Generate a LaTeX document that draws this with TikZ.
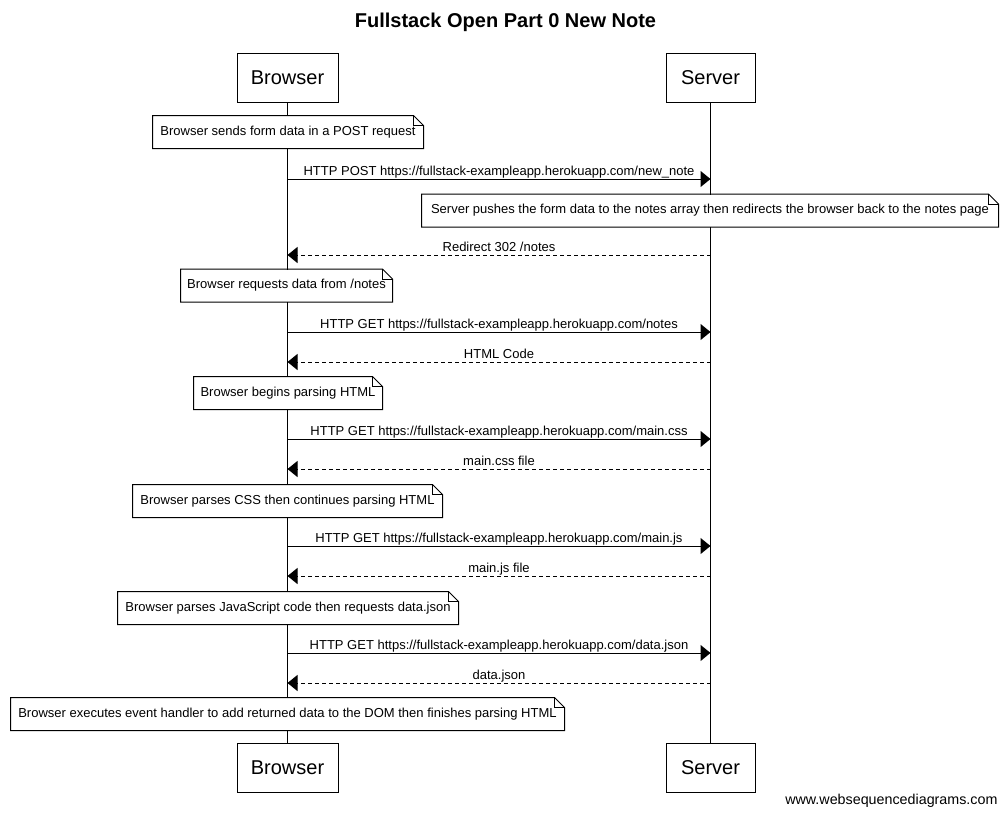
\documentclass[tikz,border=0pt]{standalone}
\usepackage{fontspec}
\setmainfont{Liberation Sans}
\usetikzlibrary{arrows.meta}
\begin{document}
\begin{tikzpicture}[x=1pt,y=-1pt,
  line width=1pt,
  actor/.style={draw, fill=white, minimum height=49pt, inner sep=0pt, font=\fontsize{20}{24}\selectfont},
  notebox/.style={fill=white, minimum height=32pt, inner sep=0pt, font=\fontsize{13}{15}\selectfont},
  noteline/.style={draw=black, line width=1pt},
  msg/.style={-{Triangle[length=10pt,width=16pt]}},
  reply/.style={msg, dash pattern=on 4pt off 3pt},
  lbl/.style={anchor=base, yshift=3.5pt, inner sep=0pt, font=\fontsize{13}{15}\selectfont},
  life/.style={line width=1pt}
]
\useasboundingbox (0,0) rectangle (1007,817);
% title
\node[font=\bfseries\fontsize{20}{24}\selectfont] (title) at (505.5,22) {Fullstack Open Part 0 New Note};
% actors
\node[actor, minimum width=101pt] (bt) at (287.5,77.5) {Browser};
\node[actor, minimum width=89pt] (st) at (710.5,77.5) {Server};
\node[actor, minimum width=101pt] (bb) at (287.5,768) {Browser};
\node[actor, minimum width=89pt] (sb) at (710.5,768) {Server};
% lifelines
\draw[life] (bt.south) -- (bb.north);
\draw[life] (st.south) -- (sb.north);
% coordinates on lifelines
\foreach \i/\y in {1/179,2/255,3/332,4/362,5/439,6/469,7/546,8/576,9/653,10/683}{
  \coordinate (b\i) at (287.5,\y);
  \coordinate (s\i) at (710.5,\y);
}
% notes
\node[notebox, minimum width=270pt] (n1) at (288,132) {Browser sends form data in a POST request};
\node[notebox, minimum width=576pt] (n2) at (710,210.5) {Server pushes the form data to the notes array then redirects the browser back to the notes page};
\node[notebox, minimum width=211pt] (n3) at (286.5,285.5) {Browser requests data from /notes};
\node[notebox, minimum width=188pt] (n4) at (288,393) {Browser begins parsing HTML};
\node[notebox, minimum width=309pt] (n5) at (287.5,501) {Browser parses CSS then continues parsing HTML};
\node[notebox, minimum width=340pt] (n6) at (288,608) {Browser parses JavaScript code then requests data.json};
\node[notebox, minimum width=553pt] (n7) at (287.5,714) {Browser executes event handler to add returned data to the DOM then finishes parsing HTML};
\foreach \n in {n1,n2,n3,n4,n5,n6,n7}{
  \draw[noteline] (\n.south west) -- (\n.north west) -- ([xshift=-10pt]\n.north east)
      -- ([yshift=-10pt]\n.north east) -- (\n.south east) -- cycle;
  \draw[noteline] ([xshift=-10pt]\n.north east) |- ([yshift=-10pt]\n.north east);
}
% messages
\draw[msg] (b1) -- (s1) node[midway, lbl] {HTTP POST https://fullstack-exampleapp.herokuapp.com/new\_note};
\draw[reply] (s2) -- (b2) node[midway, lbl] {Redirect 302 /notes};
\draw[msg] (b3) -- (s3) node[midway, lbl] {HTTP GET https://fullstack-exampleapp.herokuapp.com/notes};
\draw[reply] (s4) -- (b4) node[midway, lbl] {HTML Code};
\draw[msg] (b5) -- (s5) node[midway, lbl] {HTTP GET https://fullstack-exampleapp.herokuapp.com/main.css};
\draw[reply] (s6) -- (b6) node[midway, lbl] {main.css file};
\draw[msg] (b7) -- (s7) node[midway, lbl] {HTTP GET https://fullstack-exampleapp.herokuapp.com/main.js};
\draw[reply] (s8) -- (b8) node[midway, lbl] {main.js file};
\draw[msg] (b9) -- (s9) node[midway, lbl] {HTTP GET https://fullstack-exampleapp.herokuapp.com/data.json};
\draw[reply] (s10) -- (b10) node[midway, lbl] {data.json};
% watermark
\node[anchor=east, inner sep=0pt, font=\fontsize{14.3}{17}\selectfont] (wm) at (998,801) {www.websequencediagrams.com};
\end{tikzpicture}
\end{document}
